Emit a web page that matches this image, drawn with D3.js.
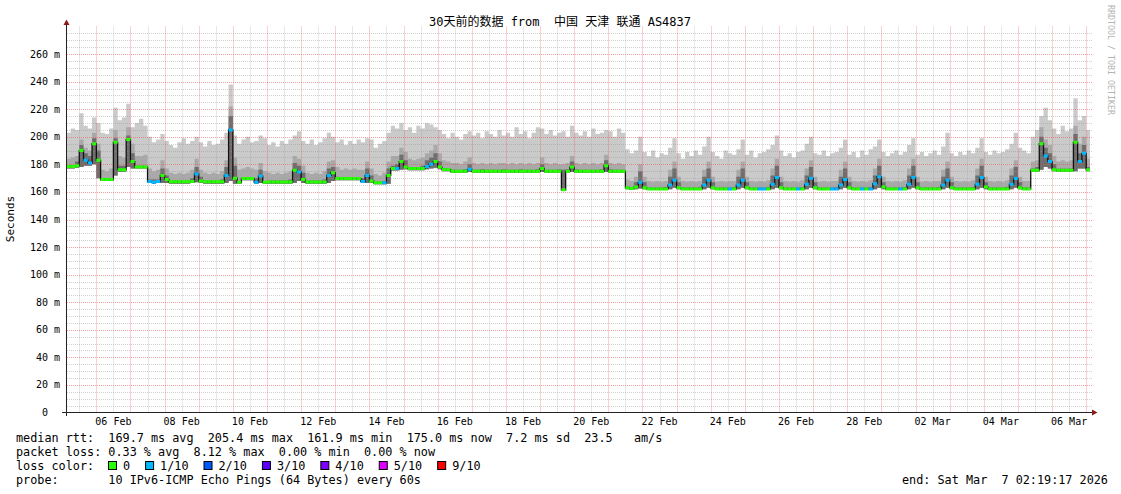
<!DOCTYPE html>
<html><head><meta charset="utf-8">
<script src="https://cdn.jsdelivr.net/npm/d3@7"></script>
<style>
html,body{margin:0;padding:0;background:#fff;}
svg{display:block;}
text{font-family:"DejaVu Sans Mono","Noto Sans CJK SC",monospace;white-space:pre;}
</style></head><body>
<svg id="c" width="1121" height="494"></svg>
<script>
// ---------------- DATA ----------------
const chartTitle = "30天前的数据 from  中国 天津 联通 AS4837";
const yAxisTitle = "Seconds";
const sideText = "RRDTOOL / TOBI OETIKER";
const bucketStartUTC = Date.UTC(2026, 1, 5, 0, 0, 0); // first 3-hour bucket
const bucketHours = 3;
const rangeStartUTC = Date.UTC(2026, 1, 5, 2, 19, 17);
const rangeEndUTC = Date.UTC(2026, 2, 7, 2, 19, 17);

// median rtt (ms), one value per 3-hour bucket
const medianRtt = [
 178.5,178.5,178.5,179,190,183,181,195,
 183,169,169,169,196,176,176,198,
 182,178,178,178,167.5,167,167.5,172,
 169,167.3,167.3,167.3,167.3,167.3,167.5,173,
 168,167.3,167.3,167.3,167.3,167.3,172,205,
 170,167,169.7,169.7,169.7,167,171.5,167,
 167.2,167.2,167.2,167.2,167.2,167.2,175.8,174.5,
 169,167.2,167.2,167.2,167.2,167.2,172,174,
 169.7,169.7,169.7,169.7,169.7,169.7,167.5,172,
 168,166.6,166.6,166.6,172,177,177,182,
 178,177,177,177,177,178.5,180,182,
 178,176.2,176.2,175,175,175,175,176.4,
 175,175,175,175,175,175,175,175,
 175,175,175,175,175,175,175,175,
 177,175,175,175,175,161.5,175,178,
 175,175,175,175,175,175,175,179,
 175,175,175,175,163,162.5,163.5,167,
 163,162.2,162.2,162.2,162.2,162.2,165,168.5,
 163,162.2,162.2,162.2,162.2,162.2,165,168.5,
 163,162.2,162.2,162.2,162.2,162.2,165,168.5,
 163,162.2,162.2,162.2,162.2,162.2,165.5,170.4,
 163,162.2,162.2,162.2,162.2,162.2,165.5,170,
 163,162.2,162.2,162.2,162.2,162.2,165,169,
 163,162.2,162.2,162.2,162.2,162.2,166,171,
 163.5,162.2,162.2,162.2,162.2,162.2,165.5,170.4,
 163,162.2,162.2,162.2,162.2,162.2,165,168.5,
 163,162.2,162.2,162.2,162.2,162.2,165.5,170.4,
 163.5,162.2,162.2,162.2,162.2,162.2,165.5,169.7,
 163,162.2,162.2,175.8,175.8,195,186,182,
 176,175.8,175.8,175.8,175.8,196,182,188,
 176];

// packet loss (tenths) per bucket
const lossTenths = [
 0,0,0,0,0,1,1,0,
 0,0,0,0,0,0,0,0,
 0,0,0,0,1,1,1,0,
 0,0,0,0,0,0,0,1,
 0,0,0,0,0,0,1,1,
 0,0,0,0,0,1,1,0,
 0,0,0,0,0,0,0,1,
 0,0,0,0,0,0,1,0,
 0,0,0,0,0,0,1,1,
 0,0,0,1,0,0,1,0,
 0,0,0,0,0,1,1,0,
 0,0,0,0,0,0,0,1,
 0,0,0,0,0,0,0,0,
 0,0,0,0,0,0,0,0,
 0,0,0,0,0,0,0,0,
 0,0,0,0,0,0,0,0,
 0,0,0,0,0,0,0,1,
 0,0,0,0,0,0,1,1,
 0,0,0,0,0,0,1,1,
 0,0,0,0,1,0,1,1,
 0,0,0,1,1,0,1,1,
 0,0,0,0,1,0,1,1,
 0,0,0,0,1,1,1,1,
 0,0,0,1,0,1,1,1,
 0,0,0,0,1,0,1,1,
 0,0,0,0,0,0,1,1,
 0,0,0,0,0,0,1,1,
 0,0,0,0,0,0,1,1,
 0,0,0,0,0,0,1,1,
 0,0,0,0,0,0,1,1,
 0];

// smoke: lowest ping
const smokeMin = [
 177,177,177,177.5,178,179,179,180,
 170,168,168,168,172,174.5,174.5,178,
 177,177,177,177,166.5,166,166.5,166.5,
 166.5,166,166,166,166,166,166.5,167,
 166.5,166,166,166,166,166,166.5,168,
 166,165.8,168.5,168.5,168.5,166,166.5,166,
 166,166,166,166,166,166,166.5,168,
 166.5,166,166,166,166,166,166.5,168,
 168.5,168.5,168.5,168.5,168.5,168.5,166.5,166.5,
 166.5,165.5,165.5,165.5,166,175.5,175.5,176,
 176.5,175.8,175.8,175.8,175.8,176.5,177,177.5,
 176.5,175,175,174,174,174,174,174.5,
 174,174,174,174,174,174,174,174,
 174,174,174,174,174,174,174,174,
 174.5,174,174,174,174,161,174,174.5,
 174,174,174,174,174,174,174,174.5,
 174,174,174,174,162,161.5,162,162.5,
 162,161.5,161.5,161.5,161.5,161.5,162,163,
 162,161.5,161.5,161.5,161.5,161.5,162,163,
 162,161.5,161.5,161.5,161.5,161.5,162,163,
 162,161.5,161.5,161.5,161.5,161.5,162,163,
 162,161.5,161.5,161.5,161.5,161.5,162,163,
 162,161.5,161.5,161.5,161.5,161.5,162,163,
 162,161.5,161.5,161.5,161.5,161.5,162,163,
 162,161.5,161.5,161.5,161.5,161.5,162,163,
 162,161.5,161.5,161.5,161.5,161.5,162,163,
 162,161.5,161.5,161.5,161.5,161.5,162,163,
 162,161.5,161.5,161.5,161.5,161.5,162,163,
 162,161.5,161.5,174.5,174.5,176,178,177,
 175,174.5,174.5,174.5,174.5,175,177,177,
 175];

// smoke: top of the dark inner band
const smokeDark = [
 179.5,179.5,179.5,182,194,188,186,199,
 190,170,170,170,199,179,179,201,
 188,179,179,179,169,169,169,177,
 172,168.3,168.3,168.3,168.3,168.3,170,178,
 171,168.3,168.3,168.3,168.3,169,178,215,
 179,168,170.7,170.7,170.7,170,176,168,
 168.2,168.2,168.2,168.2,168.2,169,181,179,
 174,168.2,168.2,168.2,168.2,169,177,178,
 171,170.7,170.7,170.7,170.7,170.7,170,177,
 172,167.6,167.6,168,177,179,180,187,
 183,178,178,178,179,183,185,188,
 182,177.2,177.2,176,176,176,176.5,180,
 176,176,176.5,176,176,176,176,176.5,
 176,176,176,176.5,176,176,176,176.5,
 180,176,176,176,176.5,176,176.5,182,
 176.5,176,176,176,176,176,176.5,183,
 176.5,176,176,176,164,163.5,167,175,
 167,163.2,163.2,163.2,163.2,163.5,171,177,
 167,163.2,163.2,163.2,163.2,163.5,171,177,
 167,163.2,163.2,163.2,163.2,163.5,171,177,
 167,163.2,163.2,163.2,163.2,163.5,172,179,
 167,163.2,163.2,163.2,163.2,163.5,172,178,
 167,163.2,163.2,163.2,163.2,163.5,171,177,
 167,163.2,163.2,163.2,163.2,163.5,172,179,
 167,163.2,163.2,163.2,163.2,163.5,172,179,
 167,163.2,163.2,163.2,163.2,163.5,171,177,
 167,163.2,163.2,163.2,163.2,163.5,172,179,
 167,163.2,163.2,163.2,163.2,163.5,172,178,
 167,163.2,163.2,177,178,200,192,188,
 180,176.8,176.8,176.8,177,202,188,194,
 178];

// smoke: top of the medium band
const smokeMid = [
 184,184,185,186,198,192,190,203,
 195,176,175,177,205,186,185,207,
 195,186,186,187,177,175,176,183,
 177,174,173,174,173,174,176,184,
 176,174,173,174,173,175,183,222,
 185,176,177,178,177,176,181,175,
 174,173,174,173,174,175,186,184,
 179,174,173,174,173,175,182,183,
 178,176,177,176,177,176,176,182,
 177,173,172,174,182,186,186,192,
 189,184,183,184,185,188,190,194,
 188,183,182,181,181,180,182,185,
 181,180,181,180,181,180,181,181,
 180,181,180,181,180,181,180,181,
 185,181,180,181,180,180,181,186,
 181,180,181,180,181,180,181,187,
 181,180,181,180,169,168,171,180,
 171,168,167.5,168,167.5,168,176,182,
 171,168,167.5,168,167.5,168,176,182,
 171,167.5,168,167.5,168,168,176,182,
 171,168,167.5,168,167.5,168.5,177,184,
 171,168,167.5,168,167.5,168.5,177,183,
 171,167.5,168,167.5,168,168,176,182,
 171,168,167.5,168,167.5,168.5,177,184,
 171,168,167.5,168,167.5,168.5,177,184,
 171,167.5,168,167.5,168,168,176,182,
 171,168,167.5,168,167.5,168.5,177,184,
 171,168,167.5,168,167.5,168.5,177,183,
 171,168,168,182,183,207,198,194,
 186,182,183,182,183,208,195,200,
 184];

// smoke: highest ping
const smokeMax = [
 200,203,206,205,217,208,206,214,
 210,203,202,206,221,212,214,224,
 207,210,213,208,200,196,198,202,
 197,194,192,196,199,195,197,200,
 196,193,197,194,195,198,203,238,
 201,195,198,200,196,197,201,199,
 194,196,193,197,195,198,201,204,
 197,195,198,194,196,199,203,200,
 196,198,194,197,195,198,196,199,
 198,192,195,197,203,208,206,210,
 205,207,203,208,206,210,209,207,
 205,202,199,203,200,198,202,204,
 201,203,199,204,202,200,205,201,
 203,200,207,202,204,199,203,207,
 206,202,205,201,203,204,200,208,
 203,201,204,200,206,202,203,205,
 204,200,206,203,191,188,190,200,
 189,186,190,185,188,187,192,199,
 188,184,189,186,190,187,193,200,
 189,186,184,190,188,187,191,198,
 187,190,185,188,189,191,194,201,
 190,186,188,185,189,190,195,200,
 188,187,190,186,188,189,192,198,
 187,189,185,190,187,191,193,198,
 189,186,188,190,187,189,194,199,
 187,189,186,188,190,187,193,203,
 188,186,189,187,190,188,192,199,
 189,187,190,188,189,191,195,203,
 192,190,188,200,205,215,221,212,
 206,202,208,204,206,228,212,215,
 205];

const yTickValues = [0,20,40,60,80,100,120,140,160,180,200,220,240,260];
const yTickUnit = "m";
const xTickLabels = ["06 Feb","08 Feb","10 Feb","12 Feb","14 Feb","16 Feb","18 Feb","20 Feb",
                     "22 Feb","24 Feb","26 Feb","28 Feb","02 Mar","04 Mar","06 Mar"];
const xTickYear = 2026;

const lossLegendLabels = ["0","1/10","2/10","3/10","4/10","5/10","9/10"];
const lossLegendColors = ["#26ff00","#00b8ff","#0059ff","#5e00ff","#7e00ff","#dd00ff","#ff0000"];
const lossColorByTenths = {0:"#26ff00",1:"#00b8ff",2:"#0059ff",3:"#5e00ff",4:"#7e00ff",5:"#dd00ff",9:"#ff0000"};

const legendLines = [
 "median rtt:  169.7 ms avg  205.4 ms max  161.9 ms min  175.0 ms now  7.2 ms sd  23.5   am/s",
 "packet loss: 0.33 % avg  8.12 % max  0.00 % min  0.00 % now",
 "loss color:",
 "probe:       10 IPv6-ICMP Echo Pings (64 Bytes) every 60s"
];
const endText = "end: Sat Mar  7 02:19:17 2026";

// ---------------- DRAW ----------------
const svg = d3.select("#c");
const plotL = 67, plotR = 1092, plotT = 26.5, plotB = 412.5;
const x = d3.scaleUtc().domain([new Date(rangeStartUTC), new Date(rangeEndUTC)]).range([65.5, 1089.5]);
const y = d3.scaleLinear().domain([0, 280]).range([412.5, 26.5]);

const n = medianRtt.length;
const tAt = i => new Date(bucketStartUTC + i * bucketHours * 3600e3);
const rows = d3.range(n + 1).map(i => {
  const k = Math.min(i, n - 1);
  return {t: tAt(i), med: medianRtt[k], lo: smokeMin[k], dk: smokeDark[k], md: smokeMid[k], mx: smokeMax[k], loss: lossTenths[k]};
});

svg.append("defs").append("clipPath").attr("id","plotclip")
  .append("rect").attr("x", plotL).attr("y", plotT).attr("width", x.range()[1] - plotL + 0.5).attr("height", plotB - plotT);

const g = svg.append("g").attr("clip-path","url(#plotclip)");
const areaBetween = (lowKey, highKey) => d3.area().curve(d3.curveStepAfter)
  .x(d => x(d.t)).y0(d => y(d[lowKey])).y1(d => y(d[highKey]));

g.append("path").datum(rows).attr("d", areaBetween("lo","mx")).attr("fill","#cacaca");
g.append("path").datum(rows).attr("d", areaBetween("lo","md")).attr("fill","#a9a9a9");
g.append("path").datum(rows).attr("d", areaBetween("lo","dk")).attr("fill","#6e6e6e");

// grid (on top of smoke, like rrdtool)
const grid = svg.append("g");
const minorY = d3.range(5, 281, 5).filter(v => v % 20 !== 0);
grid.selectAll(".ymin").data(minorY).join("line")
  .attr("x1", plotL).attr("x2", plotR).attr("y1", d => Math.round(y(d)) + 0.5).attr("y2", d => Math.round(y(d)) + 0.5)
  .attr("stroke","rgba(150,150,150,0.45)").attr("stroke-dasharray","1,1");
const hours12 = d3.utcHour.every(12).range(new Date(rangeStartUTC), new Date(rangeEndUTC));
grid.selectAll(".xmin").data(hours12.filter(d => d.getUTCHours() === 12)).join("line")
  .attr("x1", d => Math.round(x(d)) + 0.5).attr("x2", d => Math.round(x(d)) + 0.5).attr("y1", plotT).attr("y2", plotB)
  .attr("stroke","rgba(150,150,150,0.45)").attr("stroke-dasharray","1,1");
grid.selectAll(".ymaj").data(yTickValues.filter(v => v > 0)).join("line")
  .attr("x1", plotL).attr("x2", plotR).attr("y1", d => Math.round(y(d)) + 0.5).attr("y2", d => Math.round(y(d)) + 0.5)
  .attr("stroke","rgba(240,70,70,0.5)").attr("stroke-dasharray","1,1");
grid.selectAll(".xmaj").data(hours12.filter(d => d.getUTCHours() === 0)).join("line")
  .attr("x1", d => Math.round(x(d)) + 0.5).attr("x2", d => Math.round(x(d)) + 0.5).attr("y1", plotT).attr("y2", plotB)
  .attr("stroke","rgba(240,70,70,0.5)").attr("stroke-dasharray","1,1");

// median line: thin dark step line, then loss-coloured segments
const g2 = svg.append("g").attr("clip-path","url(#plotclip)");
g2.append("path").datum(rows)
  .attr("d", d3.line().curve(d3.curveStepAfter).x(d => x(d.t)).y(d => y(d.med)))
  .attr("fill","none").attr("stroke","#111").attr("stroke-width",1.3);
g2.selectAll(".seg").data(rows.slice(0, n)).join("line")
  .attr("x1", (d,i) => x(d.t)).attr("x2", (d,i) => x(rows[i+1].t))
  .attr("y1", d => y(d.med)).attr("y2", d => y(d.med))
  .attr("stroke", d => lossColorByTenths[d.loss]).attr("stroke-width", 3);

// axes
svg.append("line").attr("x1", 62).attr("x2", 1093).attr("y1", 412.5).attr("y2", 412.5).attr("stroke","#222");
svg.append("line").attr("x1", 66.5).attr("x2", 66.5).attr("y1", 416).attr("y2", 24).attr("stroke","#222");
svg.append("path").attr("d","M1092,409.5 L1097.5,412.5 L1092,415.5 Z").attr("fill","#8b1a1a");
svg.append("path").attr("d","M63.5,25 L66.5,19.5 L69.5,25 Z").attr("fill","#8b1a1a");

// y tick labels
svg.selectAll(".ylab").data(yTickValues).join("text")
  .attr("x", d => d === 0 ? 60 - 12 : 60).attr("y", d => y(d)).attr("dy","0.35em")
  .attr("text-anchor","end").attr("font-size","10px").attr("fill","#000")
  .text(d => d === 0 ? "0" : `${d} ${yTickUnit}`);

// x tick labels (centered at noon)
const parseLbl = d3.utcParse("%d %b %Y");
svg.selectAll(".xlab").data(xTickLabels).join("text")
  .attr("x", d => x(d3.utcHour.offset(parseLbl(`${d} ${xTickYear}`), 12)))
  .attr("y", 425).attr("text-anchor","middle").attr("font-size","10px").attr("fill","#000")
  .text(d => d);

// title
svg.append("text").attr("x", 560).attr("y", 25.5).attr("text-anchor","middle")
  .attr("font-size","12px").attr("fill","#000").text(chartTitle);

// y axis title
svg.append("text").attr("transform","translate(14,219) rotate(-90)").attr("text-anchor","middle")
  .attr("font-size","11px").attr("fill","#000").text(yAxisTitle);

// side text
svg.append("text").attr("transform","translate(1108,5) rotate(90)").attr("text-anchor","start")
  .attr("font-size","8.3px").attr("fill","#b4b4b4").text(sideText);

// legend
const legFont = 11.8, cw = legFont * 0.602;
const legY = [442, 456, 470, 484];
legendLines.forEach((s, i) => {
  svg.append("text").attr("x", 16).attr("y", legY[i]).attr("font-size", legFont + "px").attr("fill","#000").text(s);
});
let cursor = 108;
lossLegendLabels.forEach((lbl, i) => {
  svg.append("rect").attr("x", cursor + 0.5).attr("y", legY[2] - 8.5).attr("width", 8).attr("height", 8)
    .attr("fill", lossLegendColors[i]).attr("stroke","#000").attr("stroke-width",1);
  svg.append("text").attr("x", cursor + 15).attr("y", legY[2]).attr("font-size", legFont + "px").attr("fill","#000").text(lbl);
  cursor = cursor + 15 + lbl.length * cw + 15;
});
svg.append("text").attr("x", 902).attr("y", legY[3]).attr("font-size", legFont + "px").attr("fill","#000").text(endText);
</script>
</body></html>
